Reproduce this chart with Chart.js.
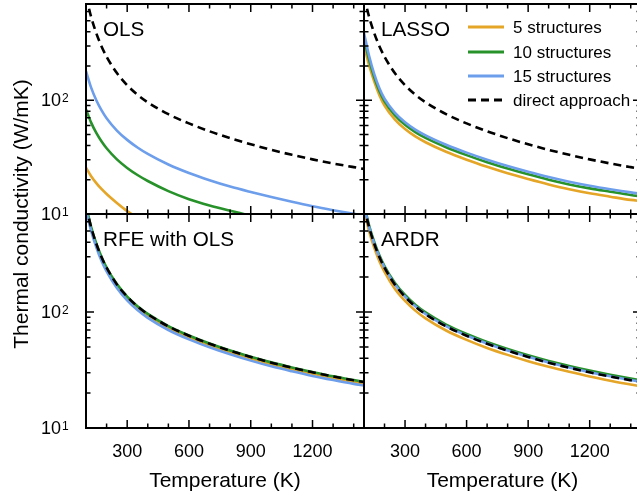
<!DOCTYPE html>
<html>
<head>
<meta charset="utf-8">
<script src="https://cdn.jsdelivr.net/npm/chart.js@4.4.1/dist/chart.umd.min.js"></script>
<style>
  html, body { margin: 0; padding: 0; background: #fff; overflow: hidden; }
  #wrap { position: relative; width: 637px; height: 498px; overflow: hidden; }
  #wrap canvas { position: absolute; left: 0; top: 0; }
</style>
</head>
<body>
<div id="wrap">
  <canvas id="ols" width="650" height="498"></canvas>
  <canvas id="lasso" width="650" height="498"></canvas>
  <canvas id="rfe" width="650" height="498"></canvas>
  <canvas id="ardr" width="650" height="498"></canvas>
</div>
<script>
// temperatures (K) where the curves are sampled
const temps = [100, 125, 150, 175, 200, 250, 300, 350, 400, 500, 600, 700, 800, 900, 1000, 1100, 1200, 1300, 1400, 1450];

// thermal conductivity (W/mK), direct approach
const direct = [823, 538, 388, 298, 241, 173, 135.5, 111.7, 95.8, 75.3, 62.5, 53.3, 46.4, 41, 36.6, 33.1, 30.2, 27.8, 25.8, 24.9];

// OLS (these curves leave the plot below 10 W/mK)
const ols5 = [25.5, 21.5, 18.7, 16.6, 15.0, 12.5, 10.6, 9.2, 8.1];
const ols10 = [83, 63.5, 51.5, 43.5, 37.8, 30.2, 25.4, 22.0, 19.5, 15.9, 13.5, 11.9, 10.7, 9.7, 8.9];
const ols15 = [180, 128.8, 99.8, 81.7, 69.4, 54.1, 44.8, 38.4, 33.7, 27.2, 22.9, 19.8, 17.4, 15.6, 14.1, 12.8, 11.7, 10.8, 10.03, 9.7];

// LASSO
const lasso5 = [300, 202, 145.8, 110.8, 89.6, 67.8, 55.7, 48, 42.7, 35.2, 30.0, 26.0, 22.8, 20.3, 18.2, 16.5, 15.2, 14.2, 13.3, 13.0];
const lasso10 = [350, 226, 159, 120.5, 97.8, 74, 60.8, 52.4, 46.6, 38.6, 32.9, 28.5, 25.1, 22.3, 20.0, 18.2, 16.8, 15.7, 14.7, 14.3];
const lasso15 = [390, 244, 169.5, 127.4, 103, 77.9, 64, 55.2, 49.1, 40.6, 34.6, 30.0, 26.4, 23.5, 21.1, 19.2, 17.7, 16.5, 15.5, 15.1];

// RFE with OLS
const rfe5 = [798, 522, 376, 289, 234, 168, 131.4, 108.3, 92.9, 73.0, 60.6, 51.7, 45.0, 39.8, 35.5, 32.1, 29.3, 27.0, 25.0, 24.2];
const rfe10 = [827, 541, 390, 300, 242, 174, 136, 112.3, 96.3, 75.7, 62.8, 53.6, 46.6, 41.2, 36.8, 33.3, 30.4, 27.9, 25.9, 25.0];
const rfe15 = [765, 500, 361, 277, 224, 161, 126, 103.9, 89.1, 70.0, 58.1, 49.6, 43.2, 38.1, 34.0, 30.8, 28.1, 25.9, 24.0, 23.2];

// ARDR
const ardr5 = [757, 495, 357, 274, 222, 159, 124.7, 102.8, 88.1, 69.3, 57.5, 49.0, 42.7, 37.7, 33.7, 30.5, 27.8, 25.6, 23.7, 22.9];
const ardr10 = [852, 557, 402, 308, 249, 179, 140.2, 115.6, 99.2, 77.9, 64.7, 55.2, 48.0, 42.4, 37.9, 34.3, 31.3, 28.8, 26.7, 25.8];
const ardr15 = [825, 540, 389, 299, 242, 173.5, 136, 112, 96.1, 75.5, 62.7, 53.5, 46.5, 41.1, 36.7, 33.2, 30.3, 27.9, 25.9, 25.0];

const seriesLabels = ['5 structures', '10 structures', '15 structures', 'direct approach'];
const xMajor = [300, 600, 900, 1200];
const xMinor = [200, 400, 500, 700, 800, 1000, 1100, 1300, 1400];
const yMajor = [10, 100];
const yMinor = [20, 30, 40, 50, 60, 70, 80, 90, 200, 300, 400, 500, 600];

const FONT = '"Liberation Sans", Arial, Helvetica, sans-serif';
const colors = ['#E5A526', '#27922A', '#6D9EEB', '#000000'];

// frame, inward ticks, labels and (optionally) the legend of one panel
const panelFrame = {
  id: 'panelFrame',
  afterDatasetsDraw(chart, args, o) {
    const { ctx, chartArea: a } = chart;
    const x = chart.scales.x, y = chart.scales.y;
    ctx.save();
    ctx.strokeStyle = '#000';
    ctx.lineWidth = 1.5;
    ctx.beginPath();
    const tx = (v, len) => {
      const px = x.getPixelForValue(v);
      ctx.moveTo(px, a.bottom); ctx.lineTo(px, a.bottom - len);
      ctx.moveTo(px, a.top); ctx.lineTo(px, a.top + len);
    };
    const ty = (v, len) => {
      const py = y.getPixelForValue(v);
      ctx.moveTo(a.left, py); ctx.lineTo(a.left + len, py);
      ctx.moveTo(a.right, py); ctx.lineTo(a.right - len, py);
    };
    xMajor.forEach(v => tx(v, 8));
    xMinor.forEach(v => tx(v, 4.5));
    yMajor.forEach(v => ty(v, 8));
    yMinor.forEach(v => ty(v, 4.5));
    ctx.stroke();
    ctx.lineWidth = 2;
    ctx.strokeRect(a.left, a.top, a.right - a.left, a.bottom - a.top);

    ctx.fillStyle = '#000';
    ctx.font = '20.7px ' + FONT;
    ctx.textAlign = 'left';
    ctx.textBaseline = 'alphabetic';
    ctx.fillText(o.title, a.left + 17, a.top + 32);

    if (o.xLabels) {
      ctx.font = '18px ' + FONT;
      ctx.textAlign = 'center';
      ctx.textBaseline = 'middle';
      xMajor.forEach(v => ctx.fillText(String(v), x.getPixelForValue(v), 452));
      ctx.font = '21px ' + FONT;
      ctx.fillText('Temperature (K)', (a.left + a.right) / 2, 481);
    }
    if (o.yLabels) {
      yMajor.forEach(v => {
        const py = y.getPixelForValue(v);
        ctx.font = '18px ' + FONT;
        ctx.textAlign = 'right';
        ctx.textBaseline = 'middle';
        ctx.fillText('10', 61, py + 1);
        ctx.font = '12px ' + FONT;
        ctx.textAlign = 'left';
        ctx.textBaseline = 'alphabetic';
        ctx.fillText(String(Math.round(Math.log10(v))), 62, py + 2);
      });
    }
    if (o.yTitle) {
      ctx.save();
      ctx.translate(22, 214);
      ctx.rotate(-Math.PI / 2);
      ctx.font = '21px ' + FONT;
      ctx.textAlign = 'center';
      ctx.textBaseline = 'middle';
      ctx.fillText('Thermal conductivity (W/mK)', 0, 0);
      ctx.restore();
    }
    if (o.legend) {
      const rows = [23, 48, 72, 96];
      chart.data.datasets.forEach((ds, i) => {
        const ly = a.top + rows[i];
        ctx.beginPath();
        ctx.strokeStyle = ds.borderColor;
        ctx.lineWidth = 3;
        ctx.setLineDash(ds.borderDash || []);
        ctx.moveTo(a.left + 104, ly);
        ctx.lineTo(a.left + 140, ly);
        ctx.stroke();
        ctx.setLineDash([]);
        ctx.fillStyle = '#000';
        ctx.font = '17px ' + FONT;
        ctx.textAlign = 'left';
        ctx.textBaseline = 'middle';
        ctx.fillText(ds.label, a.left + 149, ly + 1);
      });
    }
    ctx.restore();
  }
};

function points(values) {
  return values.map((v, i) => ({ x: temps[i], y: v }));
}

function makePanel(id, pad, frameOpts, s5, s10, s15) {
  const all = [s5, s10, s15, direct];
  const ctx = document.getElementById(id).getContext('2d');
  return new Chart(ctx, {
    type: 'line',
    data: {
      datasets: all.map((vals, i) => ({
        label: seriesLabels[i],
        data: points(vals),
        borderColor: colors[i],
        borderWidth: 2.6,
        borderDash: i === 3 ? [8, 5] : [],
        pointRadius: 0,
        fill: false,
        cubicInterpolationMode: 'monotone',
        order: 3 - i
      }))
    },
    options: {
      responsive: false,
      animation: false,
      layout: { padding: pad },
      scales: {
        x: { type: 'linear', min: 100, max: 1450, display: false },
        y: { type: 'logarithmic', min: 10, max: 700, display: false }
      },
      plugins: {
        legend: { display: false },
        tooltip: { enabled: false },
        panelFrame: frameOpts
      }
    },
    plugins: [panelFrame]
  });
}

document.addEventListener('DOMContentLoaded', () => {
  try {
    // chart areas: left column 86-364, right column 364-641; rows 4-214 and 214-428
    makePanel('ols', { left: 86, right: 286, top: 4, bottom: 284 },
      { title: 'OLS', yLabels: true, yTitle: true }, ols5, ols10, ols15);
    makePanel('lasso', { left: 364, right: 9, top: 4, bottom: 284 },
      { title: 'LASSO', legend: true }, lasso5, lasso10, lasso15);
    makePanel('rfe', { left: 86, right: 286, top: 214, bottom: 70 },
      { title: 'RFE with OLS', yLabels: true, xLabels: true }, rfe5, rfe10, rfe15);
    makePanel('ardr', { left: 364, right: 9, top: 214, bottom: 70 },
      { title: 'ARDR', xLabels: true }, ardr5, ardr10, ardr15);
  } catch (error) {
    console.error('Error drawing the charts:', error);
  }
});
</script>
</body>
</html>
